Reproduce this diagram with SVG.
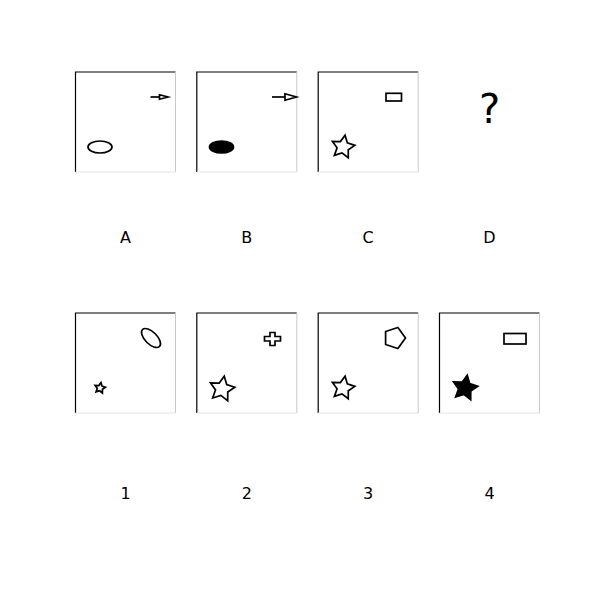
<svg xmlns="http://www.w3.org/2000/svg" width="600" height="600" viewBox="0 0 600 600">
<style>
.bl{stroke:#000;stroke-width:1.2;fill:none}
.br{stroke:#c8c8c8;stroke-width:1;fill:none}
.bb{stroke:#e4e4e4;stroke-width:1;fill:none}
.sh{stroke:#000;stroke-width:1.7;fill:none;stroke-linejoin:miter}
.fl{stroke:#000;stroke-width:1.7;fill:#000}
.lab{font-family:"DejaVu Sans",sans-serif;font-size:16px;text-anchor:middle;fill:#000}
</style>
<rect width="600" height="600" fill="#fff"/>
<g id="panelA">
<path class="bl" d="M75.5,172 V72 H175.5"/><path class="br" d="M175.5,72 V172"/><path class="bb" d="M75.5,172 H175.5"/>
<line class="sh" x1="150.5" y1="97" x2="159.5" y2="97" stroke-width="2"/>
<polygon class="sh" stroke-width="1.2" points="159.5,94.8 168,97 159.5,99.2"/>
<ellipse class="sh" cx="100" cy="147" rx="12" ry="6"/>
<text class="lab" x="125.5" y="243">A</text>
</g>
<g id="panelB">
<path class="bl" d="M196.8,172 V72 H296.8"/><path class="br" d="M296.8,72 V172"/><path class="bb" d="M196.8,172 H296.8"/>
<line class="sh" x1="272" y1="97" x2="285" y2="97" stroke-width="2"/>
<polygon class="sh" stroke-width="1.2" points="285,93.8 296.5,97 285,100.2"/>
<ellipse class="fl" cx="221.5" cy="147" rx="12" ry="6"/>
<text class="lab" x="246.8" y="243">B</text>
</g>
<g id="panelC">
<path class="bl" d="M318.2,172 V72 H418.2"/><path class="br" d="M418.2,72 V172"/><path class="bb" d="M318.2,172 H418.2"/>
<rect class="sh" x="386" y="93.3" width="15.5" height="7.7"/>
<polygon class="sh" points="345.08,135.18 347.32,142.83 354.88,145.33 348.30,149.82 348.26,157.79 341.96,152.91 334.37,155.34 337.06,147.84 332.41,141.37 340.37,141.61"/>
<text class="lab" x="368.2" y="243">C</text>
</g>
<g id="panelD">
<text class="lab" x="489.5" y="123" style="font-size:40px">?</text>
<text class="lab" x="489.5" y="243">D</text>
</g>
<g id="option1">
<path class="bl" d="M75.5,413 V313 H175.5"/><path class="br" d="M175.5,313 V413"/><path class="bb" d="M75.5,413 H175.5"/>
<ellipse class="sh" cx="151" cy="338" rx="12" ry="6" transform="rotate(45 151 338)"/>
<polygon class="sh" stroke-width="1.3" points="100.95,382.58 101.98,386.09 105.45,387.23 102.43,389.29 102.41,392.94 99.52,390.71 96.04,391.82 97.28,388.38 95.14,385.42 98.79,385.53"/>
<text class="lab" x="125.5" y="499">1</text>
</g>
<g id="option2">
<path class="bl" d="M196.8,413 V313 H296.8"/><path class="br" d="M296.8,313 V413"/><path class="bb" d="M196.8,413 H296.8"/>
<polygon class="sh" points="270,332.5 275,332.5 275,336.5 280.5,336.5 280.5,341 275,341 275,345.5 270,345.5 270,341 264.5,341 264.5,336.5 270,336.5"/>
<polygon class="sh" points="224.26,376.20 226.68,384.49 234.87,387.19 227.74,392.05 227.70,400.68 220.87,395.40 212.65,398.03 215.56,389.90 210.52,382.90 219.15,383.16"/>
<text class="lab" x="246.8" y="499">2</text>
</g>
<g id="option3">
<path class="bl" d="M318.2,413 V313 H418.2"/><path class="br" d="M418.2,313 V413"/><path class="bb" d="M318.2,413 H418.2"/>
<polygon class="sh" points="405.5,338 397.9,348.5 385.6,344.5 385.6,331.5 397.9,327.5"/>
<polygon class="sh" points="345.08,376.18 347.32,383.83 354.88,386.33 348.30,390.82 348.26,398.79 341.96,393.91 334.37,396.34 337.06,388.84 332.41,382.37 340.37,382.61"/>
<text class="lab" x="368.2" y="499">3</text>
</g>
<g id="option4">
<path class="bl" d="M439.5,413 V313 H539.5"/><path class="br" d="M539.5,313 V413"/><path class="bb" d="M439.5,413 H539.5"/>
<rect class="sh" x="504" y="333.5" width="22" height="10.5"/>
<polygon class="fl" points="467.26,375.20 469.68,383.49 477.87,386.19 470.74,391.05 470.70,399.68 463.87,394.40 455.65,397.03 458.56,388.90 453.52,381.90 462.15,382.16"/>
<text class="lab" x="489.5" y="499">4</text>
</g>
<g id="connectors"></g>
</svg>
